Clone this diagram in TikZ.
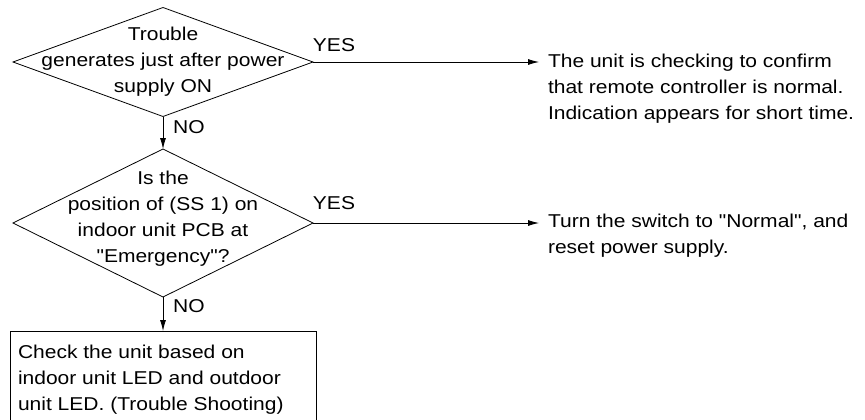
\documentclass[tikz,border=0pt]{standalone}
\usepackage{fontspec}
\newfontfamily\mainf{Liberation Sans}[FakeStretch=1.13]
\usetikzlibrary{shapes.geometric,arrows.meta}
\begin{document}
\begin{tikzpicture}[x=1pt,y=-1pt,
  every node/.style={inner sep=0pt,outer sep=0pt},
  txt/.style={font=\mainf\fontsize{18.6}{26}\selectfont},
  dec/.style={draw,diamond,line width=0.8pt,minimum width=300pt,inner sep=0pt},
  boxx/.style={draw,rectangle,line width=0.8pt},
  conn/.style={line width=0.8pt,-{Latex[length=11pt,width=6pt]}}]
\useasboundingbox (0,0) rectangle (865,420);
\begin{scope}
\clip (0,0) rectangle (865,420);
% decision 1
\node[dec,minimum height=109pt] (d1) at (163,62) {};
\node[txt,align=center] (d1t) at (163,62) {Trouble\\generates just after power\\supply ON};
% decision 2
\node[dec,minimum height=148pt] (d2) at (163,223) {};
\node[txt,align=center] (d2t) at (163,219) {Is the\\position of (SS 1) on\\indoor unit PCB at\\"Emergency"?};
% process box (its bottom edge lies below the picture)
\node[boxx,minimum width=306pt,minimum height=96pt] (b) at (163,379) {};
\node[txt,align=left,anchor=west] (bt) at (18,380) {Check the unit based on\\indoor unit LED and outdoor\\unit LED. (Trouble Shooting)};
% right texts
\node[txt,align=left,anchor=west] (r1) at (548,89) {The unit is checking to confirm\\that remote controller is normal.\\Indication appears for short time.};
\node[txt,align=left,anchor=west] (r2) at (548,236) {Turn the switch to "Normal", and\\reset power supply.};
\coordinate (e1) at (539,62);
\coordinate (e2) at (539,223);
% connectors
\draw[conn] (d1.east) -- (e1);
\draw[conn] (d2.east) -- (e2);
\draw[conn] (d1.south) -- (d2.north);
\draw[conn] (d2.south) -- (b.north);
% labels
\node[txt] (y1) at (334,45) {YES};
\node[txt] (y2) at (334,203) {YES};
\node[txt] (n1) at (189,127) {NO};
\node[txt] (n2) at (189,306) {NO};
\end{scope}
\end{tikzpicture}
\end{document}
